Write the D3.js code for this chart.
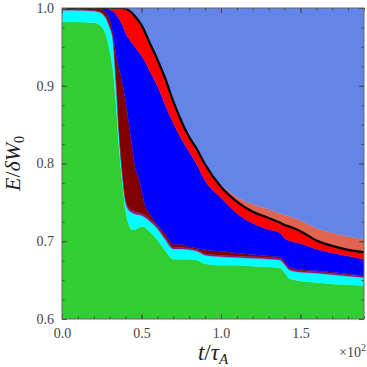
<!DOCTYPE html>
<html>
<head>
<meta charset="utf-8">
<script src="https://cdn.jsdelivr.net/npm/d3@7"></script>
<style>
body { margin: 0; background: #fff; }
</style>
</head>
<body>
<div id="chart"></div>
<script>

// time in units of 10^2 tau_A
var t = [0, 0.1, 0.2, 0.25, 0.28, 0.3, 0.32, 0.34, 0.36, 0.38, 0.4, 0.42, 0.44, 0.46, 0.48, 0.5, 0.52, 0.55,
         0.6, 0.65, 0.7, 0.75, 0.8, 0.85, 0.9, 1.0, 1.1, 1.2, 1.3, 1.37, 1.4, 1.43, 1.5, 1.6, 1.7, 1.8, 1.9];

// upper edge of each energy band (cumulative, E/dW0)
var green  = [0.982, 0.982, 0.981, 0.976, 0.963, 0.945, 0.921, 0.875, 0.817, 0.775, 0.740, 0.722, 0.715, 0.715, 0.717, 0.719, 0.718, 0.713,
              0.702, 0.688, 0.677, 0.677, 0.677, 0.676, 0.671, 0.669, 0.669, 0.668, 0.667, 0.666, 0.660, 0.652, 0.649, 0.647, 0.645, 0.644, 0.643];
var cyan   = [0.997, 0.997, 0.996, 0.993, 0.985, 0.975, 0.960, 0.905, 0.835, 0.785, 0.750, 0.740, 0.737, 0.735, 0.734, 0.733, 0.731, 0.726,
              0.716, 0.702, 0.690, 0.690, 0.689, 0.687, 0.682, 0.680, 0.679, 0.678, 0.677, 0.676, 0.670, 0.663, 0.660, 0.659, 0.657, 0.655, 0.653];
var purple = [0.998, 0.998, 0.997, 0.994, 0.987, 0.977, 0.962, 0.908, 0.838, 0.788, 0.753, 0.743, 0.740, 0.738, 0.737, 0.736, 0.734, 0.729,
              0.719, 0.705, 0.692, 0.692, 0.691, 0.689, 0.684, 0.682, 0.681, 0.680, 0.679, 0.678, 0.672, 0.665, 0.662, 0.661, 0.659, 0.657, 0.655];
var maroon = [0.999, 0.999, 0.999, 0.998, 0.993, 0.985, 0.968, 0.940, 0.922, 0.904, 0.881, 0.852, 0.824, 0.795, 0.783, 0.766, 0.748, 0.736,
              0.721, 0.709, 0.696, 0.696, 0.693, 0.691, 0.689, 0.687, 0.685, 0.683, 0.681, 0.680, 0.674, 0.667, 0.664, 0.662, 0.660, 0.658, 0.656];
var blue   = [1.000, 1.000, 1.000, 1.000, 0.999, 0.998, 0.996, 0.992, 0.986, 0.978, 0.968, 0.961, 0.955, 0.950, 0.944, 0.939, 0.932, 0.920,
              0.900, 0.875, 0.852, 0.832, 0.815, 0.798, 0.778, 0.756, 0.736, 0.723, 0.715, 0.711, 0.704, 0.701, 0.697, 0.690, 0.685, 0.681, 0.677];
var red    = [1.000, 1.000, 1.000, 1.000, 1.000, 1.000, 1.000, 1.000, 1.000, 1.000, 0.999, 0.997, 0.994, 0.989, 0.984, 0.978, 0.970, 0.956,
              0.934, 0.909, 0.880, 0.855, 0.834, 0.818, 0.799, 0.770, 0.751, 0.738, 0.730, 0.724, 0.721, 0.719, 0.713, 0.701, 0.694, 0.689, 0.686];
var salmon = [1.000, 1.000, 1.000, 1.000, 1.000, 1.000, 1.000, 1.000, 1.000, 1.000, 0.999, 0.997, 0.994, 0.989, 0.984, 0.978, 0.970, 0.956,
              0.934, 0.909, 0.880, 0.855, 0.834, 0.818, 0.800, 0.773, 0.757, 0.748, 0.741, 0.736, 0.734, 0.732, 0.727, 0.717, 0.711, 0.706, 0.703];
var top1   = t.map(function() { return 1.0; });

// total energy (black curve) follows the top of the red band
var total = red;

var xMajor = [0, 0.5, 1.0, 1.5];
var yMajor = [0.6, 0.7, 0.8, 0.9, 1.0];

var bands = [
  {lo: null,   hi: green,  color: "#32cd32"},
  {lo: green,  hi: cyan,   color: "#00ffff"},
  {lo: cyan,   hi: purple, color: "#8b1a8b"},
  {lo: purple, hi: maroon, color: "#800000"},
  {lo: maroon, hi: blue,   color: "#0000ff"},
  {lo: blue,   hi: red,    color: "#ff0000"},
  {lo: red,    hi: salmon, color: "#e0644f"},
  {lo: salmon, hi: top1,   color: "#6485e8"}
];

var serif = "'Liberation Serif', 'DejaVu Serif', serif";

var margin = {top: 8, right: 3, bottom: 48, left: 62},
    width = 367 - margin.left - margin.right,
    height = 367 - margin.top - margin.bottom;

var x = d3.scaleLinear().domain([0, 1.9]).range([0, width]),
    y = d3.scaleLinear().domain([0.6, 1.0]).range([height, 0]);

var svg = d3.select("#chart")
  .append("svg")
    .attr("width", width + margin.left + margin.right)
    .attr("height", height + margin.top + margin.bottom)
  .append("g")
    .attr("transform", "translate(" + margin.left + "," + margin.top + ")");

svg.append("clipPath").attr("id", "clip")
  .append("rect").attr("width", width).attr("height", height);

var plot = svg.append("g").attr("clip-path", "url(#clip)");

bands.forEach(function(b) {
  var area = d3.area()
      .curve(d3.curveMonotoneX)
      .x(function(d, i) { return x(t[i]); })
      .y0(function(d, i) { return b.lo ? y(b.lo[i]) : y(0.6); })
      .y1(function(d, i) { return y(b.hi[i]); });
  plot.append("path")
      .datum(t)
      .attr("fill", b.color)
      .attr("stroke", b.color)
      .attr("stroke-width", 0.3)
      .attr("d", area);
});

var line = d3.line()
    .curve(d3.curveMonotoneX)
    .x(function(d, i) { return x(t[i]); })
    .y(function(d) { return y(d); });

plot.append("path")
    .datum(total)
    .attr("fill", "none")
    .attr("stroke", "#000")
    .attr("stroke-width", 2.2)
    .attr("d", line);

// ticks pointing inward on all four sides
var xMinor = d3.range(0, 1.95, 0.1), yMinor = d3.range(0.6, 1.001, 0.025);

function tidy(g) {
  g.select(".domain").remove();
  g.attr("font-family", serif).attr("font-size", 14);
  g.selectAll(".tick line").attr("stroke", "#444");
  g.selectAll(".tick text").attr("fill", "#444");
}

svg.append("g")
    .attr("transform", "translate(0," + height + ")")
    .call(d3.axisBottom(x).tickValues(xMajor).tickSize(-5).tickPadding(9).tickFormat(d3.format(".1f")))
    .call(tidy);
svg.append("g")
    .attr("transform", "translate(0," + height + ")")
    .call(d3.axisBottom(x).tickValues(xMinor).tickSize(-2.5).tickFormat(""))
    .call(tidy);
svg.append("g")
    .call(d3.axisTop(x).tickValues(xMajor).tickSize(-5).tickFormat(""))
    .call(tidy);
svg.append("g")
    .call(d3.axisTop(x).tickValues(xMinor).tickSize(-2.5).tickFormat(""))
    .call(tidy);

svg.append("g")
    .call(d3.axisLeft(y).tickValues(yMajor).tickSize(-5).tickPadding(8).tickFormat(d3.format(".1f")))
    .call(tidy);
svg.append("g")
    .call(d3.axisLeft(y).tickValues(yMinor).tickSize(-2.5).tickFormat(""))
    .call(tidy);
svg.append("g")
    .attr("transform", "translate(" + width + ",0)")
    .call(d3.axisRight(y).tickValues(yMajor).tickSize(-5).tickFormat(""))
    .call(tidy);
svg.append("g")
    .attr("transform", "translate(" + width + ",0)")
    .call(d3.axisRight(y).tickValues(yMinor).tickSize(-2.5).tickFormat(""))
    .call(tidy);

svg.append("rect")
    .attr("width", width)
    .attr("height", height)
    .attr("fill", "none")
    .attr("stroke", "#666")
    .attr("stroke-width", 1);

// axis labels
var xl = svg.append("text")
    .attr("x", width / 2)
    .attr("y", height + 41)
    .attr("text-anchor", "middle")
    .attr("font-family", serif)
    .attr("font-size", 23)
    .attr("fill", "#222");
xl.append("tspan").attr("font-style", "italic").text("t");
xl.append("tspan").text("/");
xl.append("tspan").attr("font-style", "italic").text("τ");
xl.append("tspan").attr("font-style", "italic").attr("font-size", 15).attr("dy", 4).text("A");

var yl = svg.append("text")
    .attr("transform", "translate(-42," + (height / 2) + ") rotate(-90)")
    .attr("text-anchor", "middle")
    .attr("font-family", serif)
    .attr("font-size", 22)
    .attr("fill", "#222");
yl.append("tspan").attr("font-style", "italic").text("E");
yl.append("tspan").text("/");
yl.append("tspan").attr("font-style", "italic").text("δW");
yl.append("tspan").attr("font-size", 14).attr("dy", 4).text("0");

var ex = svg.append("text")
    .attr("x", width + 2)
    .attr("y", height + 38)
    .attr("text-anchor", "end")
    .attr("font-family", serif)
    .attr("font-size", 14)
    .attr("fill", "#444");
ex.append("tspan").text("×10");
ex.append("tspan").attr("font-size", 10).attr("dy", -6).text("2");

</script>
</body>
</html>
